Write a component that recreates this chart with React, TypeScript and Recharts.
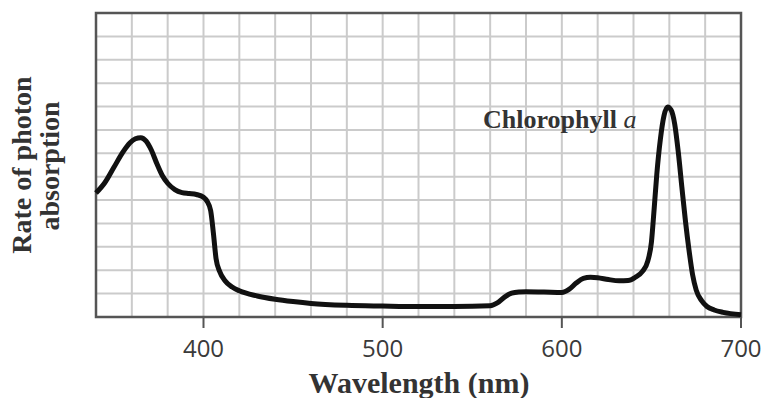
import React from 'react';
import {
  LineChart, Line, XAxis, YAxis, CartesianGrid, ReferenceArea,
} from 'recharts';

// wavelength (nm) and absorption, in grid units
const wavelengths = [
  340, 345, 350, 355, 359, 362, 365, 368, 371, 374, 377, 380, 384, 388, 392, 396, 400, 402, 404,
  405.5, 407, 409, 412, 416, 420, 430, 440, 450, 460, 480, 500, 520, 540, 560,
  564, 568, 572, 576, 580, 590, 600, 604, 608, 612, 616, 620, 626, 632, 637, 641,
  645, 648, 650, 651.5, 653, 655, 657, 659, 661, 663, 665, 667, 669, 671, 673,
  675, 678, 681, 685, 690, 700,
];
const absorption = [
  5.3, 5.75, 6.4, 7.05, 7.45, 7.62, 7.67, 7.52, 7.12, 6.55, 6.05, 5.72, 5.45, 5.32, 5.28, 5.24, 5.12, 4.95, 4.55,
  3.6, 2.5, 1.95, 1.55, 1.28, 1.12, 0.9, 0.76, 0.66, 0.58, 0.5, 0.47, 0.45, 0.45, 0.48,
  0.6, 0.85, 1.02, 1.07, 1.08, 1.07, 1.05, 1.18, 1.45, 1.65, 1.7, 1.68, 1.6, 1.55, 1.56, 1.7,
  1.95, 2.4, 3.2, 4.6, 6.1, 7.6, 8.6, 8.98, 8.85, 8.25, 7.05, 5.55, 4.1, 2.85, 1.8,
  1.15, 0.7, 0.45, 0.3, 0.2, 0.1,
];
const gridTicks = [340, 360, 380, 400, 420, 440, 460, 480, 500, 520, 540, 560, 580, 600, 620, 640, 660, 680, 700];
const labelTicks = [400, 500, 600, 700];
const yTicks = [0, 1, 2, 3, 4, 5, 6, 7, 8, 9, 10, 11, 12, 13];

const data = wavelengths.map((w, i) => ({ w, v: absorption[i] }));

const serif = '"Liberation Serif", "DejaVu Serif", serif';

const WaveTick = ({ x, y, payload }: any) => {
  if (!labelTicks.includes(payload.value)) return null;
  return (
    <g>
      <line x1={x} y1={y} x2={x} y2={y + 11} stroke="#555" strokeWidth={2} />
      <text x={x} y={y + 40} textAnchor="middle" fill="#3a3a3a" fontSize={24}
        fontFamily='"Open Sans", "Liberation Sans", sans-serif'>
        {payload.value}
      </text>
    </g>
  );
};

export default function App() {
  return (
    <div style={{ position: 'absolute', left: 0, top: 0, width: 765, height: 398, background: '#fff' }}>
      <LineChart width={765} height={398} data={data} margin={{ top: 13, right: 24, left: 96, bottom: 31 }}>
        <CartesianGrid stroke="#cbcbcb" strokeWidth={2} />
        <XAxis
          dataKey="w"
          type="number"
          domain={[340, 700]}
          ticks={gridTicks}
          interval={0}
          height={50}
          axisLine={false}
          tickLine={false}
          tickSize={0}
          tickMargin={0}
          tick={<WaveTick />}
        />
        <YAxis type="number" domain={[0, 13]} ticks={yTicks} hide />
        <ReferenceArea x1={340} x2={700} y1={0} y2={13} fill="none" stroke="#555" strokeWidth={2.5} ifOverflow="visible" />
        <Line
          type="monotone"
          dataKey="v"
          stroke="#111"
          strokeWidth={5}
          dot={false}
          isAnimationActive={false}
        />
        <text x={483} y={128} fontFamily={serif} fontSize={26} fontWeight={600} fill="#333">
          Chlorophyll <tspan fontStyle="italic" fontWeight={400}>a</tspan>
        </text>
        <text x={419} y={393} textAnchor="middle" fontFamily={serif} fontSize={30} fontWeight={700} fill="#333">
          Wavelength (nm)
        </text>
        <text x={31} y={165} transform="rotate(-90, 31, 165)" textAnchor="middle" fontFamily={serif} fontSize={28} fontWeight={700} fill="#333">
          Rate of photon
        </text>
        <text x={59} y={166} transform="rotate(-90, 59, 166)" textAnchor="middle" fontFamily={serif} fontSize={28} fontWeight={700} fill="#333">
          absorption
        </text>
      </LineChart>
    </div>
  );
}
